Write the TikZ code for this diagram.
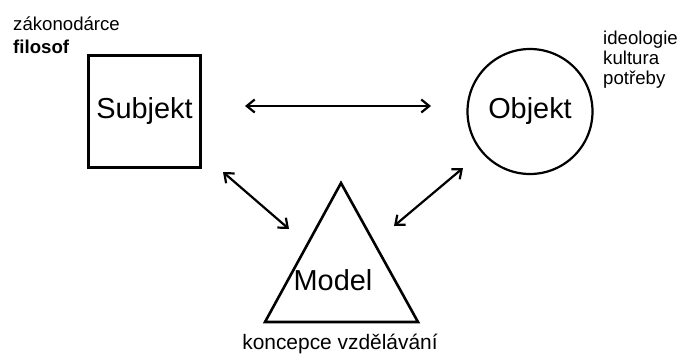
\documentclass[tikz,border=0pt]{standalone}
\usepackage{fontspec}
\setmainfont{Liberation Sans}
\usetikzlibrary{arrows.meta}

\begin{document}
\begin{tikzpicture} [x=1bp, y=-1bp, >={Straight Barb[length=8bp,width=13bp]},
        vztah/.style = {<->, line width=2.2bp},
        velky/.style = {font=\fontsize{29}{31}\selectfont},
        maly/.style = {font=\fontsize{18.7}{20}\selectfont, align=left, inner sep=0pt}]
        \useasboundingbox (0,0) rectangle (679,358);

                \node[draw, line width=2.6bp, minimum size=112bp, velky] (subjekt) at (144.5,111.5) {Subjekt};
                \node[draw, circle, line width=2.2bp, minimum size=125bp, velky] (objekt) at (530,111.5) {Objekt};

                % trojuhelnik
                \coordinate (vrchol) at (341,183);
                \coordinate (levy) at (265,322);
                \coordinate (pravy) at (418,322);
		\draw[line width=2.6bp, line join=miter] (vrchol) -- (levy) -- (pravy) -- cycle;
                \node[velky, anchor=base] (model) at (333,290) {Model};

                \node[maly, anchor=base west] (zakonodarce) at (13,30.5) {zákonodárce};
                \node[maly, anchor=base west, font=\fontsize{18.7}{20}\selectfont\bfseries] (filosof) at (13,53) {filosof};
                \node[maly, anchor=north west] (ideologie) at (603,31) {ideologie\\kultura\\potřeby};
                \node[maly, anchor=base, font=\fontsize{21}{22}\selectfont] (koncepce) at (340,349) {koncepce vzdělávání};

                \coordinate (s1) at (245,106);
                \coordinate (o1) at (431,106);
                \coordinate (s2) at (223,172);
                \coordinate (m2) at (289,229);
                \coordinate (o3) at (463,168);
                \coordinate (m3) at (394,226);

		\draw[vztah] (s1) -- (o1);
		\draw[vztah] (s2) -- (m2);
		\draw[vztah] (o3) -- (m3);

\end{tikzpicture}
\end{document}
